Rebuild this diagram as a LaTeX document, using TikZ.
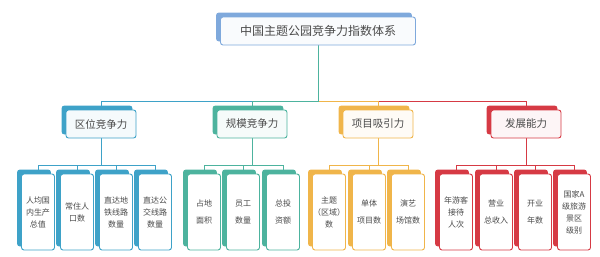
\documentclass[tikz,border=0pt]{standalone}
\usepackage{fontspec}
\setmainfont{Noto Sans CJK SC}
\usetikzlibrary{shadows,backgrounds}
\definecolor{rootc}{HTML}{7FA9DC}
\definecolor{bluec}{HTML}{3EA2C8}
\definecolor{tealc}{HTML}{4DB39E}
\definecolor{orangec}{HTML}{F0B54A}
\definecolor{redc}{HTML}{D63A44}
\definecolor{txt}{HTML}{4A4A4A}
\begin{document}
\begin{tikzpicture}[
  x=1pt, y=-1pt,
  box/.style={draw=#1, fill=#1!5, line width=0.9pt, rounded corners=2.5pt, text=txt, align=center, inner sep=0pt,
    copy shadow={shadow xshift=-4pt, shadow yshift=4pt, fill=#1, draw=#1}},
  top/.style={box=rootc, minimum width=195pt, minimum height=28pt, font=\fontsize{12}{14}\selectfont},
  group/.style={box=#1, minimum width=70pt, minimum height=28pt, font=\fontsize{10.5}{12}\selectfont},
  leaf/.style={box=#1, fill=white, minimum width=33pt, minimum height=76pt, text width=33pt, font=\fontsize{8}{12}\selectfont},
  link/.style={draw=#1, line width=1pt}
]
\useasboundingbox (0,0) rectangle (600,257);
\node[top] (root) at (318,31) {中国主题公园竞争力指数体系};
\node[group=bluec] (g1) at (101,124) {区位竞争力};
\node[group=tealc] (g2) at (252,124) {规模竞争力};
\node[group=orangec] (g3) at (378,124) {项目吸引力};
\node[group=redc] (g4) at (526,124) {发展能力};
% level 3
\node[leaf=bluec] (l11) at (38,212) {人均国\\内生产\\总值};
\node[leaf=bluec] (l12) at (77,212) {常住人\\口数};
\node[leaf=bluec] (l13) at (116,212) {直达地\\铁线路\\数量};
\node[leaf=bluec] (l14) at (155,212) {直达公\\交线路\\数量};
\node[leaf=tealc] (l21) at (204,212) {占地\\[5pt]面积};
\node[leaf=tealc] (l22) at (243,212) {员工\\[5pt]数量};
\node[leaf=tealc] (l23) at (283,212) {总投\\[5pt]资额};
\node[leaf=orangec] (l31) at (329,212) {主题\\（区域）\\数};
\node[leaf=orangec] (l32) at (369,212) {单体\\[5pt]项目数};
\node[leaf=orangec] (l33) at (408,212) {演艺\\[5pt]场馆数};
\node[leaf=redc] (l41) at (456,212) {年游客\\接待\\人次};
\node[leaf=redc] (l42) at (496,212) {营业\\[5pt]总收入};
\node[leaf=redc] (l43) at (535,212) {开业\\[5pt]年数};
\node[leaf=redc] (l44) at (574,212) {国家A\\级旅游\\景区\\级别};
\begin{scope}[on background layer]
\draw[link=redc] (root.south) -- ++(0,56) -| (g4.north);
\draw[link=orangec] (root.south) -- ++(0,56) -| (g3.north);
\draw[link=bluec] (root.south) -- ++(0,56) -| (g1.north);
\draw[link=tealc] (root.south) -- ++(0,56) -| (g2.north);
\foreach \i in {1,...,4} \draw[link=bluec] (g1.south) -- ++(0,27) -| (l1\i.north);
\foreach \i in {1,...,3} \draw[link=tealc] (g2.south) -- ++(0,27) -| (l2\i.north);
\foreach \i in {1,...,3} \draw[link=orangec] (g3.south) -- ++(0,27) -| (l3\i.north);
\foreach \i in {1,...,4} \draw[link=redc] (g4.south) -- ++(0,27) -| (l4\i.north);
\end{scope}
\end{tikzpicture}
\end{document}
